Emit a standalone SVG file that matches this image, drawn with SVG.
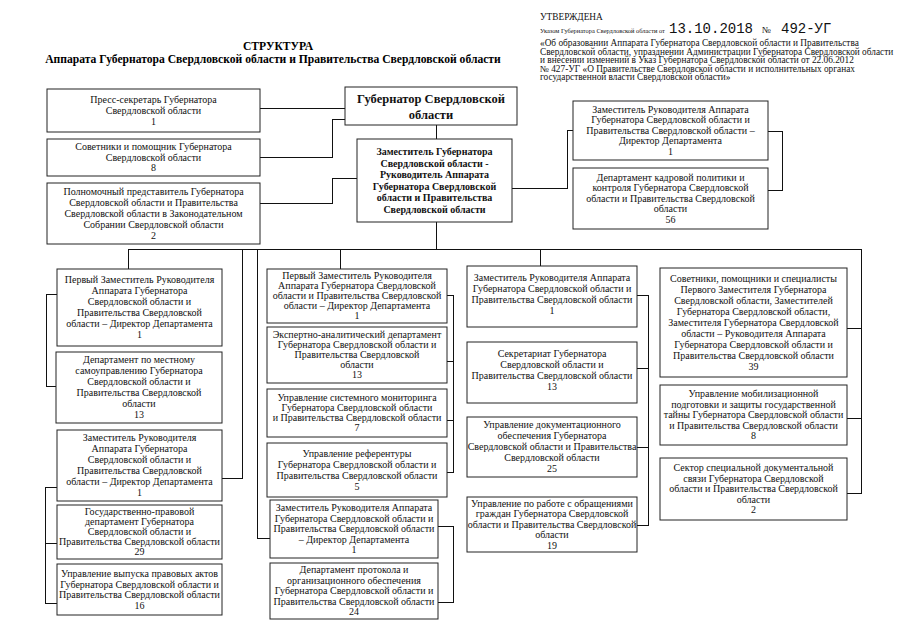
<svg xmlns="http://www.w3.org/2000/svg" width="905" height="640" viewBox="0 0 905 640">
<style>
.bg{fill:#fff}
.box{fill:#fff;stroke:#222;stroke-width:1}
.t{font-family:"Liberation Serif","Times New Roman",serif;font-size:10px;text-anchor:middle;fill:#111}
.b{font-weight:bold}
.hd{font-family:"Liberation Serif","Times New Roman",serif;font-size:11.6px;font-weight:bold;text-anchor:middle;fill:#000}
.ap{font-family:"Liberation Serif","Times New Roman",serif;font-size:9.3px;fill:#111}
.mono{font-family:"Liberation Mono","Courier New",monospace;font-size:14px;fill:#111}
.c{fill:none;stroke:#111;stroke-width:1}
</style>
<rect class="bg" x="0" y="0" width="905" height="640"/>

<g id="title">
<text class="hd" x="278" y="50">СТРУКТУРА</text>
<text class="hd" x="273" y="63">Аппарата Губернатора Свердловской области и Правительства Свердловской области</text>
</g>

<g id="approval">
<text class="ap" x="540" y="20">УТВЕРЖДЕНА</text>
<text class="ap" x="540" y="33" style="font-size:6.4px">Указом Губернатора Свердловской области от</text>
<text class="mono" x="669" y="33">13.10.2018</text>
<text class="ap" x="762" y="33">№</text>
<text class="mono" x="781" y="33">492-УГ</text>
<text class="ap" x="540" y="46">«Об образовании Аппарата Губернатора Свердловской области и Правительства</text>
<text class="ap" x="540" y="54.5">Свердловской области, упразднении Администрации Губернатора Свердловской области</text>
<text class="ap" x="540" y="63">и внесении изменений в Указ Губернатора Свердловской области от 22.06.2012</text>
<text class="ap" x="540" y="71.5">№ 427-УГ «О Правительстве Свердловской области и исполнительных органах</text>
<text class="ap" x="540" y="80">государственной власти Свердловской области»</text>
</g>

<g id="connectors" shape-rendering="crispEdges">
<path class="c" d="M260,108 H345"/>
<path class="c" d="M260,157 H332 V119 H345"/>
<path class="c" d="M260,203 H332 V178 H357"/>
<path class="c" d="M436,125 V139"/>
<path class="c" d="M512,188 H567 V130 H573"/>
<path class="c" d="M768,131 H782 V190 H768"/>
<path class="c" d="M436,222 V249"/>
<path class="c" d="M128,249 H861"/>
<path class="c" d="M128,249 V269"/>
<path class="c" d="M242,249 V478 H222"/>
<path class="c" d="M257,249 V538 H270"/>
<path class="c" d="M340,249 V269"/>
<path class="c" d="M540,249 V266"/>
<path class="c" d="M861,249 V493 H847 M847,328 H861 M847,418 H861"/>
<path class="c" d="M57,294 H46 V386 H56"/>
<path class="c" d="M57,487 H45 V603 H57 M45,543 H57"/>
<path class="c" d="M447,295 H453 V472 H447 M447,361 H453 M447,420 H453"/>
<path class="c" d="M438,526 H453 V602 H438"/>
<path class="c" d="M637,295 H648 V525 H637 M637,368 H648 M637,447 H648"/>
</g>

<g id="press-secretary">
<rect class="box" x="47" y="89" width="213" height="43"/>
<text class="t"><tspan x="153.5" y="102.8">Пресс-секретарь Губернатора</tspan><tspan x="153.5" y="113.8">Свердловской области</tspan><tspan x="153.5" y="124.8">1</tspan></text>
</g>
<g id="advisers-governor">
<rect class="box" x="47" y="139" width="213" height="37"/>
<text class="t"><tspan x="153.5" y="150.3">Советники и помощник Губернатора</tspan><tspan x="153.5" y="160.8">Свердловской области</tspan><tspan x="153.5" y="171.3">8</tspan></text>
</g>
<g id="plenipotentiary">
<rect class="box" x="47" y="183" width="213" height="61"/>
<text class="t"><tspan x="153.5" y="194.8">Полномочный представитель Губернатора</tspan><tspan x="153.5" y="205.8">Свердловской области и Правительства</tspan><tspan x="153.5" y="216.8">Свердловской области в Законодательном</tspan><tspan x="153.5" y="227.8">Собрании Свердловской области</tspan><tspan x="153.5" y="238.8">2</tspan></text>
</g>

<g id="governor">
<rect class="box" x="345" y="87" width="172" height="38"/>
<text class="t b" style="font-size:12.5px"><tspan x="431" y="102.5">Губернатор Свердловской</tspan><tspan x="431" y="118.5">области</tspan></text>
</g>
<g id="deputy-governor">
<rect class="box" x="357" y="139" width="155" height="83"/>
<text class="t b" style="font-size:10px"><tspan x="434.5" y="155.3">Заместитель Губернатора</tspan><tspan x="434.5" y="166.8">Свердловской области -</tspan><tspan x="434.5" y="178.3">Руководитель Аппарата</tspan><tspan x="434.5" y="189.8">Губернатора Свердловской</tspan><tspan x="434.5" y="201.3">области и Правительства</tspan><tspan x="434.5" y="212.8">Свердловской области</tspan></text>
</g>

<g id="deputy-head-personnel">
<rect class="box" x="573" y="101" width="195" height="59"/>
<text class="t"><tspan x="670.5" y="112.8">Заместитель Руководителя Аппарата</tspan><tspan x="670.5" y="123.3">Губернатора Свердловской области и</tspan><tspan x="670.5" y="133.8">Правительства Свердловской области –</tspan><tspan x="670.5" y="144.3">Директор Департамента</tspan><tspan x="670.5" y="154.8">1</tspan></text>
</g>
<g id="dept-personnel">
<rect class="box" x="573" y="168" width="195" height="61"/>
<text class="t"><tspan x="670.5" y="180.8">Департамент кадровой политики и</tspan><tspan x="670.5" y="191.3">контроля Губернатора Свердловской</tspan><tspan x="670.5" y="201.8">области и Правительства Свердловской</tspan><tspan x="670.5" y="212.3">области</tspan><tspan x="670.5" y="222.8">56</tspan></text>
</g>

<g id="c1-first-deputy">
<rect class="box" x="57" y="269" width="165" height="77"/>
<text class="t"><tspan x="139.5" y="283.3">Первый Заместитель Руководителя</tspan><tspan x="139.5" y="294.3">Аппарата Губернатора</tspan><tspan x="139.5" y="305.3">Свердловской области и</tspan><tspan x="139.5" y="316.3">Правительства Свердловской</tspan><tspan x="139.5" y="327.3">области – Директор Департамента</tspan><tspan x="139.5" y="338.3">1</tspan></text>
</g>
<g id="c1-local-gov">
<rect class="box" x="56" y="352" width="166" height="71"/>
<text class="t"><tspan x="139" y="363.3">Департамент по местному</tspan><tspan x="139" y="374.3">самоуправлению Губернатора</tspan><tspan x="139" y="385.3">Свердловской области и</tspan><tspan x="139" y="396.3">Правительства Свердловской</tspan><tspan x="139" y="407.3">области</tspan><tspan x="139" y="418.3">13</tspan></text>
</g>
<g id="c1-deputy">
<rect class="box" x="57" y="430" width="165" height="71"/>
<text class="t"><tspan x="139.5" y="441.3">Заместитель Руководителя</tspan><tspan x="139.5" y="452.3">Аппарата Губернатора</tspan><tspan x="139.5" y="463.3">Свердловской области и</tspan><tspan x="139.5" y="474.3">Правительства Свердловской</tspan><tspan x="139.5" y="485.3">области – Директор Департамента</tspan><tspan x="139.5" y="496.3">1</tspan></text>
</g>
<g id="c1-legal">
<rect class="box" x="57" y="505" width="165" height="54"/>
<text class="t"><tspan x="139.5" y="515.3">Государственно-правовой</tspan><tspan x="139.5" y="525.3">департамент Губернатора</tspan><tspan x="139.5" y="535.3">Свердловской области и</tspan><tspan x="139.5" y="545.3">Правительства Свердловской области</tspan><tspan x="139.5" y="555.3">29</tspan></text>
</g>
<g id="c1-acts">
<rect class="box" x="57" y="564" width="165" height="51"/>
<text class="t"><tspan x="139.5" y="577">Управление выпуска правовых актов</tspan><tspan x="139.5" y="587.5">Губернатора Свердловской области и</tspan><tspan x="139.5" y="598">Правительства Свердловской области</tspan><tspan x="139.5" y="608.5">16</tspan></text>
</g>

<g id="c2-first-deputy">
<rect class="box" x="267" y="269" width="180" height="54"/>
<text class="t"><tspan x="357" y="279.3">Первый Заместитель Руководителя</tspan><tspan x="357" y="289.3">Аппарата Губернатора Свердловской</tspan><tspan x="357" y="299.3">области и Правительства Свердловской</tspan><tspan x="357" y="309.3">области – Директор Департамента</tspan><tspan x="357" y="319.3">1</tspan></text>
</g>
<g id="c2-expert">
<rect class="box" x="267" y="327" width="180" height="56"/>
<text class="t"><tspan x="357" y="338.3">Экспертно-аналитический департамент</tspan><tspan x="357" y="348.3">Губернатора Свердловской области и</tspan><tspan x="357" y="358.3">Правительства Свердловской</tspan><tspan x="357" y="368.3">области</tspan><tspan x="357" y="378.3">13</tspan></text>
</g>
<g id="c2-monitoring">
<rect class="box" x="267" y="389" width="180" height="48"/>
<text class="t"><tspan x="357" y="401.3">Управление системного мониторинга</tspan><tspan x="357" y="411.3">Губернатора Свердловской области</tspan><tspan x="357" y="421.3">и Правительства Свердловской области</tspan><tspan x="357" y="431.3">7</tspan></text>
</g>
<g id="c2-referentura">
<rect class="box" x="267" y="443" width="180" height="54"/>
<text class="t"><tspan x="357" y="456.8">Управление референтуры</tspan><tspan x="357" y="467.8">Губернатора Свердловской области и</tspan><tspan x="357" y="478.8">Правительства Свердловской области</tspan><tspan x="357" y="489.8">5</tspan></text>
</g>
<g id="c2-deputy">
<rect class="box" x="270" y="500" width="168" height="58"/>
<text class="t"><tspan x="354" y="511.3">Заместитель Руководителя Аппарата</tspan><tspan x="354" y="521.8">Губернатора Свердловской области и</tspan><tspan x="354" y="532.3">Правительства Свердловской области</tspan><tspan x="354" y="542.8">– Директор Департамента</tspan><tspan x="354" y="553.3">1</tspan></text>
</g>
<g id="c2-protocol">
<rect class="box" x="270" y="563" width="168" height="56"/>
<text class="t"><tspan x="354" y="573.3">Департамент протокола и</tspan><tspan x="354" y="583.8">организационного обеспечения</tspan><tspan x="354" y="594.3">Губернатора Свердловской области и</tspan><tspan x="354" y="604.8">Правительства Свердловской области</tspan><tspan x="354" y="615.3">24</tspan></text>
</g>

<g id="c3-deputy">
<rect class="box" x="467" y="266" width="170" height="61"/>
<text class="t"><tspan x="552" y="281.3">Заместитель Руководителя Аппарата</tspan><tspan x="552" y="292.3">Губернатора Свердловской области и</tspan><tspan x="552" y="303.3">Правительства Свердловской области</tspan><tspan x="552" y="314.3">1</tspan></text>
</g>
<g id="c3-secretariat">
<rect class="box" x="467" y="342" width="170" height="61"/>
<text class="t"><tspan x="552" y="357.3">Секретариат Губернатора</tspan><tspan x="552" y="368.3">Свердловской области и</tspan><tspan x="552" y="379.3">Правительства Свердловской области</tspan><tspan x="552" y="390.3">13</tspan></text>
</g>
<g id="c3-documents">
<rect class="box" x="467" y="417" width="170" height="60"/>
<text class="t"><tspan x="552" y="428.3">Управление документационного</tspan><tspan x="552" y="439.3">обеспечения Губернатора</tspan><tspan x="552" y="450.3">Свердловской области и Правительства</tspan><tspan x="552" y="461.3">Свердловской области</tspan><tspan x="552" y="472.3">25</tspan></text>
</g>
<g id="c3-appeals">
<rect class="box" x="467" y="497" width="170" height="55"/>
<text class="t"><tspan x="552" y="506.8">Управление по работе с обращениями</tspan><tspan x="552" y="517.3">граждан Губернатора Свердловской</tspan><tspan x="552" y="527.8">области и Правительства Свердловской</tspan><tspan x="552" y="538.3">области</tspan><tspan x="552" y="548.8">19</tspan></text>
</g>

<g id="c4-advisers">
<rect class="box" x="660" y="268" width="187" height="109"/>
<text class="t"><tspan x="753.5" y="281.8">Советники, помощники и специалисты</tspan><tspan x="753.5" y="292.8">Первого Заместителя Губернатора</tspan><tspan x="753.5" y="303.8">Свердловской области, Заместителей</tspan><tspan x="753.5" y="314.8">Губернатора Свердловской области,</tspan><tspan x="753.5" y="325.8">Заместителя Губернатора Свердловской</tspan><tspan x="753.5" y="336.8">области – Руководителя Аппарата</tspan><tspan x="753.5" y="347.8">Губернатора Свердловской области и</tspan><tspan x="753.5" y="358.8">Правительства Свердловской области</tspan><tspan x="753.5" y="369.8">39</tspan></text>
</g>
<g id="c4-mobilization">
<rect class="box" x="660" y="385" width="187" height="60"/>
<text class="t"><tspan x="753.5" y="397.3">Управление мобилизационной</tspan><tspan x="753.5" y="407.8">подготовки и защиты государственной</tspan><tspan x="753.5" y="418.3">тайны Губернатора Свердловской области</tspan><tspan x="753.5" y="428.8">и Правительства Свердловской области</tspan><tspan x="753.5" y="439.3">8</tspan></text>
</g>
<g id="c4-special-comm">
<rect class="box" x="660" y="458" width="187" height="62"/>
<text class="t"><tspan x="753.5" y="471.3">Сектор специальной документальной</tspan><tspan x="753.5" y="481.8">связи Губернатора Свердловской</tspan><tspan x="753.5" y="492.3">области и Правительства Свердловской</tspan><tspan x="753.5" y="502.8">области</tspan><tspan x="753.5" y="513.3">2</tspan></text>
</g>
</svg>
